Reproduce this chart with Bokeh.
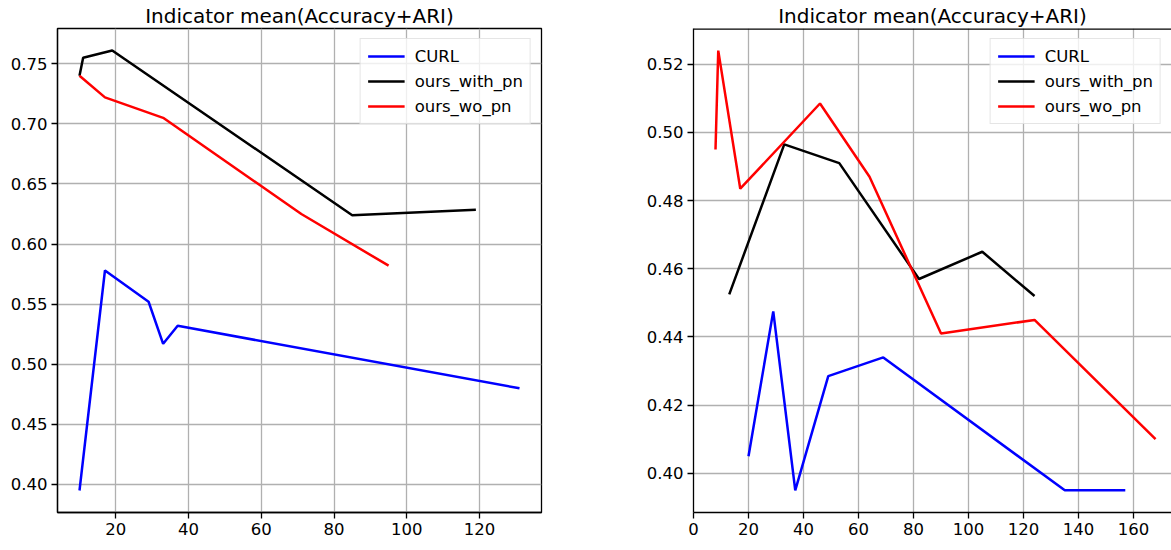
from bokeh.plotting import figure
from bokeh.layouts import row
from bokeh.models import Range1d, FixedTicker, NumeralTickFormatter, Legend, LegendItem, Span
from bokeh.embed import file_html
from bokeh.resources import INLINE

# ---- data: left panel ----
curl_x_a = [10, 17, 29, 33, 37, 131]
curl_y_a = [0.395, 0.578, 0.552, 0.517, 0.532, 0.480]
with_x_a = [10, 11, 19, 85, 119]
with_y_a = [0.740, 0.755, 0.761, 0.624, 0.6285]
wo_x_a = [10, 17, 33, 71, 95]
wo_y_a = [0.740, 0.722, 0.705, 0.625, 0.582]

# ---- data: right panel ----
curl_x_b = [20, 29, 37, 49, 69, 135, 157]
curl_y_b = [0.405, 0.4475, 0.395, 0.4285, 0.434, 0.395, 0.395]
with_x_b = [13, 33, 53, 82, 105, 124]
with_y_b = [0.4525, 0.4965, 0.491, 0.457, 0.465, 0.452]
wo_x_b = [8, 9, 17, 46, 64, 90, 124, 168]
wo_y_b = [0.495, 0.524, 0.4835, 0.5085, 0.487, 0.441, 0.445, 0.410]

labels = ["CURL", "ours_with_pn", "ours_wo_pn"]
colors = ["#0000ff", "#000000", "#ff0000"]
title_text = "Indicator mean(Accuracy+ARI)"

x_ticks_a = [20, 40, 60, 80, 100, 120]
y_ticks_a = [0.40, 0.45, 0.50, 0.55, 0.60, 0.65, 0.70, 0.75]
x_ticks_b = [0, 20, 40, 60, 80, 100, 120, 140, 160]
y_ticks_b = [0.40, 0.42, 0.44, 0.46, 0.48, 0.50, 0.52]

FONT = "DejaVu Sans"


def make_panel(width, border_left, border_right, xr, yr, xt, yt, series, outline=True):
    p = figure(width=width, height=546, output_backend="svg", toolbar_location=None,
               x_range=Range1d(*xr), y_range=Range1d(*yr),
               min_border_left=border_left, min_border_right=border_right,
               min_border_top=28, min_border_bottom=34, title=title_text)
    p.title.text_font = FONT
    p.title.text_font_size = "20px"
    p.title.text_font_style = "normal"
    p.title.align = "center"
    p.title.standoff = 1
    p.title.text_color = "#000000"
    p.background_fill_color = "white"
    p.border_fill_color = "white"
    if outline:
        p.outline_line_color = "black"
        p.outline_line_width = 1.3
        p.outline_line_alpha = 1.0
    else:
        p.outline_line_color = None
        p.add_layout(Span(location=yr[1], dimension="width", line_color="black", line_width=2.6))
    for ax in (p.xaxis[0], p.yaxis[0]):
        ax.axis_line_color = "black"
        ax.axis_line_width = 1.3
        ax.major_tick_line_color = "black"
        ax.major_tick_line_width = 1.3
        ax.major_tick_out = 6
        ax.major_tick_in = 0
        ax.minor_tick_line_color = None
        ax.major_label_text_font = FONT
        ax.major_label_text_font_size = "16.5px"
        ax.major_label_text_color = "#000000"
        ax.major_label_standoff = 4
    p.xaxis[0].ticker = FixedTicker(ticks=xt)
    p.yaxis[0].ticker = FixedTicker(ticks=yt)
    p.xaxis[0].formatter = NumeralTickFormatter(format="0")
    p.yaxis[0].formatter = NumeralTickFormatter(format="0.00")
    p.grid.grid_line_color = "#b0b0b0"
    p.grid.grid_line_width = 1.3
    p.xgrid.ticker = FixedTicker(ticks=xt)
    p.ygrid.ticker = FixedTicker(ticks=yt)

    items = []
    for (xs, ys), lab, col in zip(series, labels, colors):
        r = p.line(xs, ys, line_color=col, line_width=2.5)
        items.append(LegendItem(label=lab, renderers=[r]))
    leg = Legend(items=items, location="top_right")
    leg.label_text_font = FONT
    leg.label_text_font_size = "16.5px"
    leg.label_text_color = "#000000"
    leg.glyph_width = 37
    leg.glyph_height = 20
    leg.label_height = 20
    leg.label_standoff = 10
    leg.spacing = 5
    leg.padding = 7
    leg.margin = 10
    leg.border_line_color = "#cccccc"
    leg.border_line_width = 1.3
    leg.background_fill_color = "white"
    leg.background_fill_alpha = 0.8
    p.add_layout(leg, "center")
    return p


p1 = make_panel(628, 57, 87, (3.95, 137.05), (0.3767, 0.7793), x_ticks_a, y_ticks_a,
                [(curl_x_a, curl_y_a), (with_x_a, with_y_a), (wo_x_a, wo_y_a)])
p2 = make_panel(543, 65, 0, (0.0, 173.8), (0.3885, 0.5305), x_ticks_b, y_ticks_b,
                [(curl_x_b, curl_y_b), (with_x_b, with_y_b), (wo_x_b, wo_y_b)], outline=False)

layout = row(p1, p2, spacing=0)
open("out.html", "w").write(file_html(layout, INLINE))
